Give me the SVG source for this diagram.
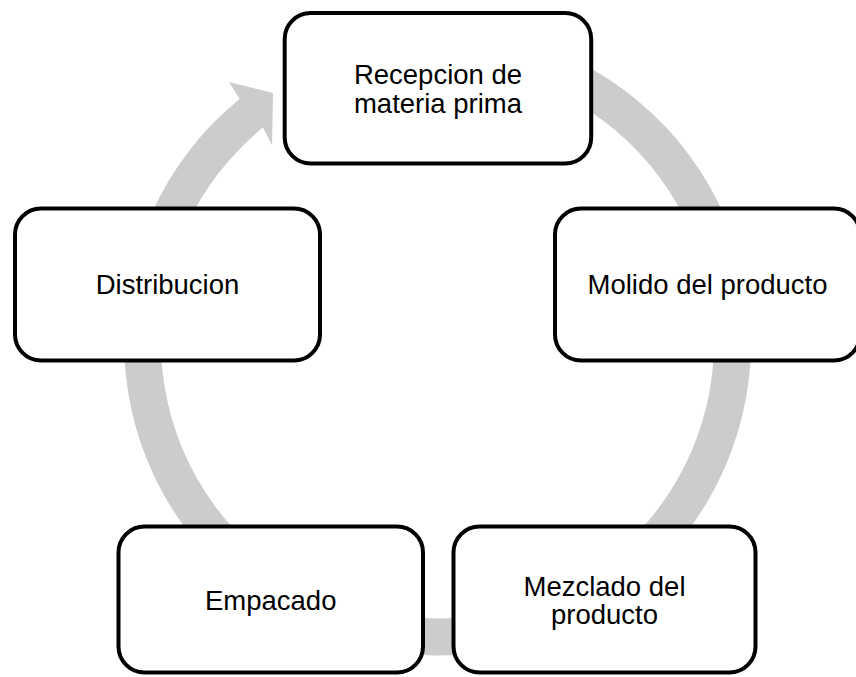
<svg xmlns="http://www.w3.org/2000/svg" width="856" height="677" viewBox="0 0 856 677">
<style>
.node rect{fill:#ffffff;stroke:#000000;stroke-width:4}
.node text{font-family:"Liberation Sans",Arial,sans-serif;font-size:27.5px;fill:#000000;text-anchor:middle}
.ring{fill:#cccccc;stroke:none}
</style>
<rect width="856" height="677" fill="#ffffff"/>
<g id="connectors">
<path class="ring" d="M 437.5 28.5 A 313.5 313.5 0 1 1 239.6 98.9 L 229 82 L 273 93 L 272 145 L 262.9 127.6 A 276.5 276.5 0 1 0 437.5 65.5 Z"/>
</g>
<g id="node-recepcion" class="node">
<rect x="284.7" y="13" width="306.5" height="150.5" rx="26" ry="26"/>
<text x="438" y="84">Recepcion de</text>
<text x="438" y="113">materia prima</text>
</g>
<g id="node-molido" class="node">
<rect x="555" y="208.5" width="305" height="152" rx="26" ry="26"/>
<text x="707.5" y="294">Molido del producto</text>
</g>
<g id="node-mezclado" class="node">
<rect x="453.5" y="526.5" width="302" height="146" rx="26" ry="26"/>
<text x="604.5" y="596">Mezclado del</text>
<text x="604.5" y="624">producto</text>
</g>
<g id="node-empacado" class="node">
<rect x="118.5" y="526.5" width="304.5" height="146" rx="26" ry="26"/>
<text x="270.7" y="610">Empacado</text>
</g>
<g id="node-distribucion" class="node">
<rect x="15" y="208.5" width="305" height="152" rx="26" ry="26"/>
<text x="167.5" y="294">Distribucion</text>
</g>
</svg>
